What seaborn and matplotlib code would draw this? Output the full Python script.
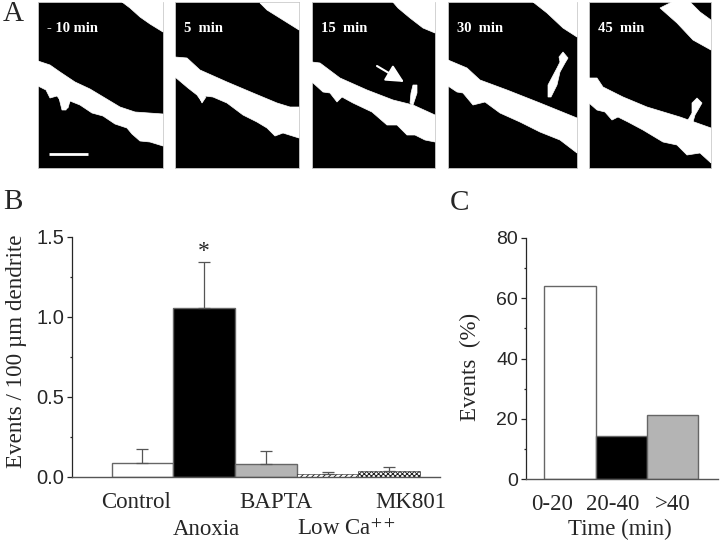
#!/usr/bin/env python3
# -*- coding: utf-8 -*-
import pandas as pd
import seaborn as sns
import matplotlib.pyplot as plt
from matplotlib.patches import Polygon
from matplotlib.ticker import MultipleLocator

# Panel B
condiciones = ['Control', 'Anoxia', 'BAPTA', 'Low Ca', 'MK801']
eventos = [0.0875, 1.056, 0.08, 0.02, 0.035]
error_eventos = [0.0875, 0.288, 0.08, 0.01, 0.03]
etiquetas_b = ['Control', 'Anoxia', 'BAPTA', 'Low Ca$^{++}$', 'MK801']
colores_b = ['white', 'black', '#b4b4b4', 'white', 'white']
ticks_b = ['0.0', '0.5', '1.0', '1.5']

# Panel C
intervalos = ['0-20', '20-40', '>40']
porcentajes = [64, 14.3, 21.4]
colores_c = ['white', 'black', '#b4b4b4']
ticks_c = [0, 20, 40, 60, 80]

# Panel A: time stamps and the white shapes of each frame (figure pixels)
tiempos = ['- 10 min', '5  min', '15  min', '30  min', '45  min']
marcos = [(38, 163), (175, 299), (312, 435), (448, 577), (589, 711)]
dendritas = [
    [(38, 61), (50, 65), (60, 72), (75, 82), (90, 89), (105, 98), (120, 107), (135, 112), (163, 114),
     (163, 146), (150, 142), (140, 141), (132, 134), (127, 128), (115, 124), (103, 116), (92, 113),
     (80, 105), (70, 101), (68, 108), (64, 109), (60, 100), (57, 96), (50, 98), (46, 90), (38, 86)],
    [(175, 57), (187, 58), (200, 70), (227, 82), (253, 93), (277, 103), (290, 107), (299, 107),
     (299, 138), (283, 133), (275, 136), (267, 128), (257, 122), (243, 115), (227, 103), (213, 97),
     (205, 96), (202, 102), (197, 95), (188, 88), (175, 77)],
    [(312, 62), (320, 63), (340, 78), (367, 90), (393, 100), (413, 105), (435, 115),
     (435, 142), (425, 140), (415, 135), (407, 135), (397, 125), (387, 125), (372, 112),
     (353, 103), (342, 97), (337, 102), (330, 93), (323, 92), (312, 82)],
    [(448, 60), (467, 68), (480, 80), (507, 90), (540, 103), (577, 118),
     (577, 153), (560, 140), (540, 132), (520, 122), (500, 113), (485, 102), (473, 105),
     (463, 93), (457, 92), (448, 86)],
    [(589, 78), (597, 78), (603, 87), (623, 97), (647, 107), (680, 117), (711, 128),
     (711, 163), (700, 153), (687, 155), (677, 145), (663, 142), (643, 130), (628, 122),
     (618, 117), (612, 120), (605, 112), (597, 110), (589, 103)],
]
zonas_blancas = [
    [(122, 2), (163, 2), (163, 32), (150, 24), (140, 17), (130, 8)],
    [(260, 3), (299, 3), (299, 30), (283, 20), (267, 10)],
    [(392, 1), (435, 1), (435, 33), (423, 28), (410, 18), (398, 8)],
    [(533, 2), (577, 2), (577, 37), (563, 28), (547, 13)],
    [(660, 8), (672, 2), (690, 2), (700, 12), (711, 20), (711, 50), (693, 40), (677, 23)],
]
espinas = [
    [(59, 98), (62, 110), (66, 110), (70, 100)],
    [(197, 92), (202, 103), (206, 97)],
    [(410, 103), (411, 93), (413, 85), (417, 85), (417, 93), (413, 105)],
    [(548, 97), (548, 85), (557, 68), (560, 62), (559, 57), (563, 52), (568, 58), (565, 63),
     (560, 72), (557, 85), (551, 97)],
    [(688, 120), (692, 113), (692, 103), (697, 98), (702, 103), (698, 110), (695, 115), (693, 122)],
]

ANCHO, ALTO = 720, 541
SERIF = 'Liberation Serif'
SANS = 'Liberation Sans'


def ejes_px(fig, izq, arriba, der, abajo):
    '''Creates axes from figure pixel limits'''
    return fig.add_axes([izq / ANCHO, 1 - abajo / ALTO, (der - izq) / ANCHO, (abajo - arriba) / ALTO])


def panel_a(fig):
    ax = ejes_px(fig, 0, 0, ANCHO, ALTO)
    ax.set_xlim(0, ANCHO)
    ax.set_ylim(ALTO, 0)
    ax.axis('off')
    for i, (izq, der) in enumerate(marcos):
        ax.add_patch(plt.Rectangle((izq, 2), der - izq, 166, fc='black', ec='#c8c8c8', lw=0.6))
        for forma in (dendritas[i], zonas_blancas[i], espinas[i]):
            ax.add_patch(Polygon(forma, closed=True, fc='white', ec='white', lw=0.5))
        ax.text(izq + 9, 28, tiempos[i], color='white', family=SERIF, weight='bold', fontsize=10.5, va='center')
    # scale bar and arrow
    ax.plot([49, 88], [154, 154], color='white', lw=2, solid_capstyle='butt')
    ax.annotate('', xy=(404, 82), xytext=(377, 66),
                arrowprops=dict(arrowstyle='-|>,head_width=0.45,head_length=0.9', color='white', lw=1.5,
                                shrinkA=0, shrinkB=0))
    ax.text(3, 14, 'A', family=SERIF, fontsize=21, va='center')
    ax.text(3, 202, 'B', family=SERIF, fontsize=21, va='center')
    ax.text(450, 203, 'C', family=SERIF, fontsize=21, va='center')


def estilo_ejes(ax, tam_ticks):
    sns.despine(ax=ax)
    ax.spines['bottom'].set_color('#555555')
    ax.spines['bottom'].set_linewidth(1.0)
    ax.spines['left'].set_linewidth(0.9)
    ax.tick_params(axis='x', length=0, pad=11)
    ax.tick_params(axis='y', which='major', length=3.8, width=0.9, labelsize=tam_ticks, pad=2)
    ax.tick_params(axis='y', which='minor', length=1.8, width=0.9)
    ax.set_xlabel('')
    for etiqueta in ax.get_yticklabels():
        etiqueta.set_family(SANS)


def panel_b(fig):
    ax = ejes_px(fig, 72, 237, 440, 477)
    df = pd.DataFrame({'condicion': condiciones, 'eventos': eventos})
    sns.barplot(data=df, x='condicion', y='eventos', hue='condicion', palette=colores_b, width=1.0,
                edgecolor='#666666', linewidth=1, legend=False, saturation=1, ax=ax)
    ax.patches[3].set_hatch('//////')
    ax.patches[4].set_hatch('xxxxxxx')
    for barra in ax.patches[3:5]:
        barra.set_edgecolor('#222222')
        barra.set_linewidth(0.4)
    ax.errorbar(range(len(condiciones)), eventos, yerr=[[0] * len(eventos), error_eventos], fmt='none',
                ecolor='#555555', elinewidth=0.9, capsize=4, capthick=0.9)
    ax.set_xlim(-1.14, 4.82)
    ax.set_ylim(0, 1.5)
    ax.set_yticks([0, 0.5, 1.0, 1.5], ticks_b)
    ax.yaxis.set_minor_locator(MultipleLocator(0.25))
    # labels sit a bit left/right of their bars, as in the figure
    ax.set_xticks([-0.1, 1.04, 2.16, 3.3, 4.34], etiquetas_b, family=SERIF, fontsize=16.5)
    estilo_ejes(ax, 14.5)
    # Anoxia and Low Ca go on a second row
    marcas = ax.xaxis.get_major_ticks()
    marcas[1].set_pad(30)
    marcas[3].set_pad(30)
    ax.set_ylabel('Events / 100 µm dendrite', family=SERIF, fontsize=16.6)
    ax.yaxis.set_label_coords(-0.122, 0.525)
    ax.text(1, 1.344, '*', family=SERIF, fontsize=17, ha='center', va='bottom')


def panel_c(fig):
    ax = ejes_px(fig, 526, 238, 718, 479)
    df = pd.DataFrame({'intervalo': intervalos, 'porcentaje': porcentajes})
    sns.barplot(data=df, x='intervalo', y='porcentaje', hue='intervalo', palette=colores_c, width=1.0,
                edgecolor='#666666', linewidth=1, legend=False, saturation=1, ax=ax)
    ax.set_xlim(-0.858, 2.885)
    ax.set_ylim(0, 80)
    ax.set_yticks(ticks_c)
    ax.yaxis.set_minor_locator(MultipleLocator(10))
    ax.set_xticks([-0.35, 0.84, 2.0], intervalos, family=SERIF, fontsize=16.5)
    estilo_ejes(ax, 14)
    ax.set_ylabel('Events  (%)', family=SERIF, fontsize=16.5)
    ax.yaxis.set_label_coords(-0.232, 0.465)
    ax.set_xlabel('Time (min)', family=SERIF, fontsize=16.5)
    ax.xaxis.set_label_coords(0.49, -0.165)


def main():
    sns.set_theme(style='ticks')
    plt.rcParams['font.family'] = [SANS, 'DejaVu Sans']
    plt.rcParams['mathtext.fontset'] = 'stix'
    plt.rcParams['hatch.linewidth'] = 0.7
    fig = plt.figure(figsize=(ANCHO / 100, ALTO / 100), dpi=100)
    panel_a(fig)
    panel_b(fig)
    panel_c(fig)
    fig.savefig('out.png', dpi=100)


if __name__ == '__main__':
    main()
